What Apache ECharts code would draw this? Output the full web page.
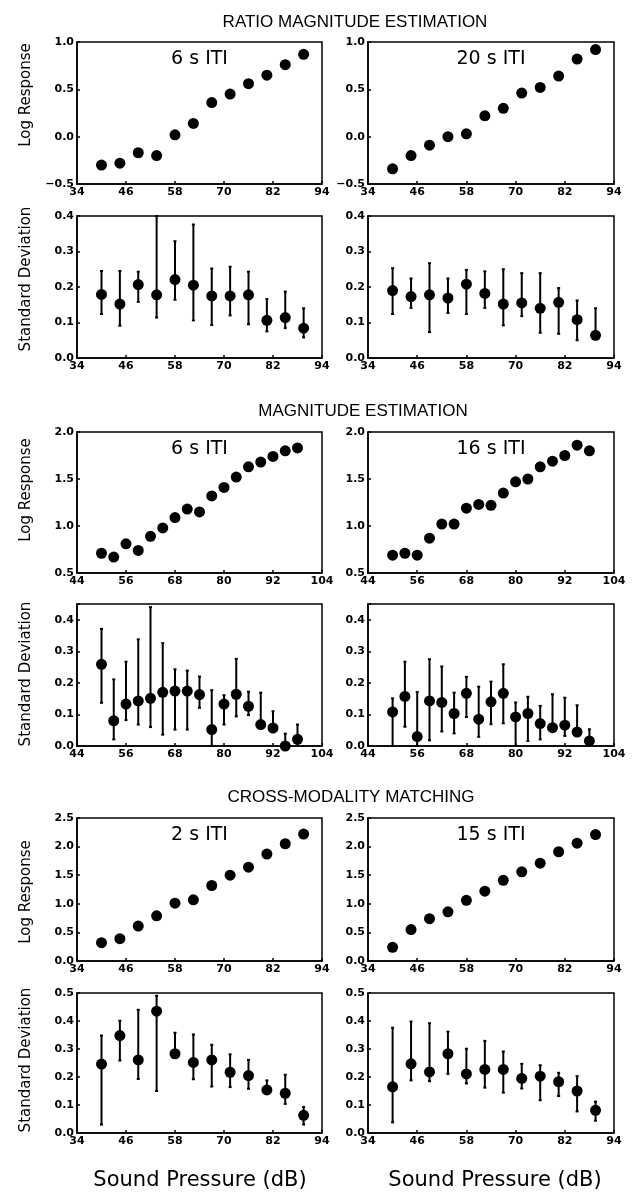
<!DOCTYPE html>
<html><head><meta charset="utf-8">
<script src="https://cdn.jsdelivr.net/npm/echarts@6/dist/echarts.min.js"></script>
<style>html,body{margin:0;padding:0;background:#fff}#c{width:635px;height:1192px}</style>
</head><body><div id="c"></div><script>
// ---- DATA ----
const rmeX = [40, 44.5, 49, 53.5, 58, 62.5, 67, 71.5, 76, 80.5, 85, 89.5];
const meX  = [50, 53, 56, 59, 62, 65, 68, 71, 74, 77, 80, 83, 86, 89, 92, 95, 98];
const cmmX = [40, 44.5, 49, 53.5, 58, 62.5, 67, 71.5, 76, 80.5, 85, 89.5];

const rme6Log  = [-0.30, -0.28, -0.17, -0.20, 0.02, 0.14, 0.36, 0.45, 0.56, 0.65, 0.76, 0.87];
const rme20Log = [-0.34, -0.20, -0.09, 0.00, 0.03, 0.22, 0.30, 0.46, 0.52, 0.64, 0.82, 0.92];

const rme6SD  = [0.179, 0.152, 0.207, 0.178, 0.221, 0.205, 0.175, 0.175, 0.178, 0.106, 0.114, 0.084];
const rme6Hi  = [0.245, 0.245, 0.243, 0.400, 0.329, 0.376, 0.252, 0.257, 0.243, 0.166, 0.187, 0.140];
const rme6Lo  = [0.124, 0.091, 0.158, 0.114, 0.164, 0.106, 0.093, 0.120, 0.095, 0.075, 0.084, 0.058];
const rme20SD = [0.190, 0.173, 0.178, 0.169, 0.208, 0.182, 0.152, 0.155, 0.140, 0.157, 0.108, 0.064];
const rme20Hi = [0.253, 0.224, 0.267, 0.224, 0.248, 0.244, 0.250, 0.239, 0.239, 0.197, 0.162, 0.140];
const rme20Lo = [0.124, 0.141, 0.073, 0.127, 0.124, 0.141, 0.092, 0.118, 0.071, 0.068, 0.050, 0.064];

const me6Log  = [0.71, 0.67, 0.81, 0.74, 0.89, 0.98, 1.09, 1.18, 1.15, 1.32, 1.41, 1.52, 1.63, 1.68, 1.74, 1.80, 1.83];
const me16Log = [0.69, 0.71, 0.69, 0.87, 1.02, 1.02, 1.19, 1.23, 1.22, 1.35, 1.47, 1.50, 1.63, 1.69, 1.75, 1.86, 1.80];

const me6SD  = [0.259, 0.080, 0.133, 0.143, 0.151, 0.170, 0.174, 0.174, 0.163, 0.052, 0.133, 0.164, 0.126, 0.068, 0.057, 0.000, 0.021];
const me6Hi  = [0.371, 0.211, 0.267, 0.338, 0.440, 0.326, 0.243, 0.239, 0.220, 0.177, 0.161, 0.276, 0.172, 0.169, 0.110, 0.039, 0.068];
const me6Lo  = [0.137, 0.021, 0.082, 0.068, 0.060, 0.036, 0.052, 0.052, 0.121, 0.000, 0.068, 0.094, 0.098, 0.068, 0.045, 0.000, 0.007];
const me16SD = [0.108, 0.157, 0.030, 0.143, 0.138, 0.103, 0.167, 0.085, 0.140, 0.167, 0.092, 0.103, 0.071, 0.058, 0.066, 0.044, 0.016];
const me16Hi = [0.151, 0.267, 0.171, 0.275, 0.252, 0.169, 0.219, 0.188, 0.204, 0.259, 0.138, 0.156, 0.127, 0.164, 0.153, 0.129, 0.053];
const me16Lo = [0.000, 0.061, 0.000, 0.018, 0.046, 0.040, 0.092, 0.029, 0.069, 0.072, 0.000, 0.016, 0.021, 0.058, 0.032, 0.044, 0.010];

const cmm2Log  = [0.32, 0.39, 0.61, 0.79, 1.01, 1.07, 1.32, 1.50, 1.64, 1.87, 2.05, 2.22];
const cmm15Log = [0.24, 0.55, 0.74, 0.86, 1.06, 1.22, 1.41, 1.56, 1.71, 1.91, 2.06, 2.21];

const cmm2SD  = [0.246, 0.348, 0.261, 0.435, 0.283, 0.252, 0.261, 0.217, 0.205, 0.154, 0.142, 0.063];
const cmm2Hi  = [0.348, 0.401, 0.440, 0.490, 0.358, 0.352, 0.315, 0.281, 0.261, 0.188, 0.208, 0.093];
const cmm2Lo  = [0.030, 0.259, 0.193, 0.150, 0.270, 0.192, 0.166, 0.164, 0.158, 0.154, 0.104, 0.030];
const cmm15SD = [0.165, 0.247, 0.218, 0.283, 0.211, 0.227, 0.227, 0.195, 0.203, 0.183, 0.150, 0.081];
const cmm15Hi = [0.376, 0.398, 0.392, 0.362, 0.301, 0.329, 0.291, 0.247, 0.242, 0.215, 0.203, 0.112];
const cmm15Lo = [0.038, 0.188, 0.185, 0.211, 0.177, 0.162, 0.144, 0.159, 0.117, 0.132, 0.077, 0.044];

const sectionTitles = ['RATIO MAGNITUDE ESTIMATION', 'MAGNITUDE ESTIMATION', 'CROSS-MODALITY MATCHING'];
const itiLabels = ['6 s ITI', '20 s ITI', '6 s ITI', '16 s ITI', '2 s ITI', '15 s ITI'];
const xName = 'Sound Pressure (dB)';
const yNames = ['Log Response', 'Standard Deviation'];

// ---- LAYOUT ----
const colL = [77, 245], colR = [368, 246];
const rows = [[42, 142], [216, 142], [432, 141], [604, 142], [818, 143], [993, 140]];

const panels = [
  {c: colL, r: 0, xs: rmeX, xmin: 34, y: rme6Log, ymin: -0.5, ymax: 1.0, yi: 0.5, lab: itiLabels[0]},
  {c: colR, r: 0, xs: rmeX, xmin: 34, y: rme20Log, ymin: -0.5, ymax: 1.0, yi: 0.5, lab: itiLabels[1]},
  {c: colL, r: 1, xs: rmeX, xmin: 34, y: rme6SD, hi: rme6Hi, lo: rme6Lo, ymin: 0, ymax: 0.4, yi: 0.1},
  {c: colR, r: 1, xs: rmeX, xmin: 34, y: rme20SD, hi: rme20Hi, lo: rme20Lo, ymin: 0, ymax: 0.4, yi: 0.1},
  {c: colL, r: 2, xs: meX, xmin: 44, y: me6Log, ymin: 0.5, ymax: 2.0, yi: 0.5, lab: itiLabels[2]},
  {c: colR, r: 2, xs: meX, xmin: 44, y: me16Log, ymin: 0.5, ymax: 2.0, yi: 0.5, lab: itiLabels[3]},
  {c: colL, r: 3, xs: meX, xmin: 44, y: me6SD, hi: me6Hi, lo: me6Lo, ymin: 0, ymax: 0.45, yi: 0.1},
  {c: colR, r: 3, xs: meX, xmin: 44, y: me16SD, hi: me16Hi, lo: me16Lo, ymin: 0, ymax: 0.45, yi: 0.1},
  {c: colL, r: 4, xs: cmmX, xmin: 34, y: cmm2Log, ymin: 0, ymax: 2.5, yi: 0.5, lab: itiLabels[4]},
  {c: colR, r: 4, xs: cmmX, xmin: 34, y: cmm15Log, ymin: 0, ymax: 2.5, yi: 0.5, lab: itiLabels[5]},
  {c: colL, r: 5, xs: cmmX, xmin: 34, y: cmm2SD, hi: cmm2Hi, lo: cmm2Lo, ymin: 0, ymax: 0.5, yi: 0.1},
  {c: colR, r: 5, xs: cmmX, xmin: 34, y: cmm15SD, hi: cmm15Hi, lo: cmm15Lo, ymin: 0, ymax: 0.5, yi: 0.1}
];

const tickFont = {fontFamily: 'DejaVu Sans', fontWeight: 'bold', fontSize: 11, color: '#000'};
const grid = [], xAxis = [], yAxis = [], series = [], graphic = [];

panels.forEach((p, i) => {
  const [top, h] = rows[p.r];
  grid.push({left: p.c[0], top: top, width: p.c[1], height: h, show: true,
             borderColor: '#000', borderWidth: 1.5, backgroundColor: 'transparent'});
  xAxis.push({type: 'value', gridIndex: i, min: 0, max: 60, interval: 12,
    axisLine: {show: true, onZero: false, lineStyle: {color: '#000', width: 1.5}},
    axisTick: {show: true, inside: true, length: 3, lineStyle: {color: '#000', width: 1.5}},
    splitLine: {show: false},
    axisLabel: Object.assign({margin: 3, formatter: v => String(Math.round(v + p.xmin))}, tickFont)});
  yAxis.push({type: 'value', gridIndex: i, min: p.ymin, max: p.ymax, interval: p.yi,
    axisLine: {show: true, onZero: false, lineStyle: {color: '#000', width: 1.5}},
    axisTick: {show: true, inside: true, length: 3, lineStyle: {color: '#000', width: 1.5}},
    splitLine: {show: false},
    axisLabel: Object.assign({margin: 3, formatter: v => {
      const k = Math.round(v / 0.1);
      if (Math.abs(v - k * 0.1) > 1e-6) return '';
      return (v < 0 ? '\u2212' : '') + Math.abs(v).toFixed(1);
    }}, tickFont)});
  const pts = p.xs.map((x, j) => [x - p.xmin, p.y[j]]);
  if (p.hi) {
    const bars = p.xs.map((x, j) => [x - p.xmin, p.lo[j], p.hi[j]]);
    series.push({type: 'custom', xAxisIndex: i, yAxisIndex: i, data: bars, silent: true,
      renderItem: (params, api) => {
        const x = api.value(0);
        const a = api.coord([x, api.value(1)]);
        const b = api.coord([x, api.value(2)]);
        const st = {stroke: '#000', lineWidth: 2};
        return {type: 'group', children: [
          {type: 'line', shape: {x1: a[0], y1: a[1], x2: b[0], y2: b[1]}, style: st},
          {type: 'line', shape: {x1: b[0] - 1.5, y1: b[1], x2: b[0] + 1.5, y2: b[1]}, style: st},
          {type: 'line', shape: {x1: a[0] - 1.5, y1: a[1], x2: a[0] + 1.5, y2: a[1]}, style: st}
        ]};
      }});
  }
  series.push({type: 'scatter', xAxisIndex: i, yAxisIndex: i, data: pts, symbol: 'circle',
    symbolSize: 11, itemStyle: {color: '#000', opacity: 1}, emphasis: {disabled: true}, silent: true, z: 5});
  if (p.lab) {
    graphic.push({type: 'text', x: p.c[0] + p.c[1] / 2, y: top + 17,
      style: {text: p.lab, font: '19px "DejaVu Sans"', fill: '#000', align: 'center', verticalAlign: 'middle'}});
  }
});

// section titles
[[355, 22], [363, 411], [351, 797]].forEach((pos, k) => {
  graphic.push({type: 'text', x: pos[0], y: pos[1],
    style: {text: sectionTitles[k], font: '17px "Liberation Sans"', fill: '#000', align: 'center', verticalAlign: 'middle'}});
});
// y axis names
[[26, 95, 0], [26, 279, 1], [26, 490, 0], [26, 674, 1], [26, 892, 0], [26, 1060, 1]].forEach(d => {
  graphic.push({type: 'text', x: d[0], y: d[1], rotation: Math.PI / 2,
    style: {text: yNames[d[2]], font: '15px "DejaVu Sans"', fill: '#000', align: 'center', verticalAlign: 'middle'}});
});
// x axis names
[200, 495].forEach(cx => {
  graphic.push({type: 'text', x: cx, y: 1181,
    style: {text: xName, font: '21px "DejaVu Sans"', fill: '#000', align: 'center', verticalAlign: 'middle'}});
});

const chart = echarts.init(document.getElementById('c'), null, {renderer: 'canvas'});
chart.setOption({backgroundColor: '#fff', animation: false, grid, xAxis, yAxis, series, graphic});
</script></body></html>
